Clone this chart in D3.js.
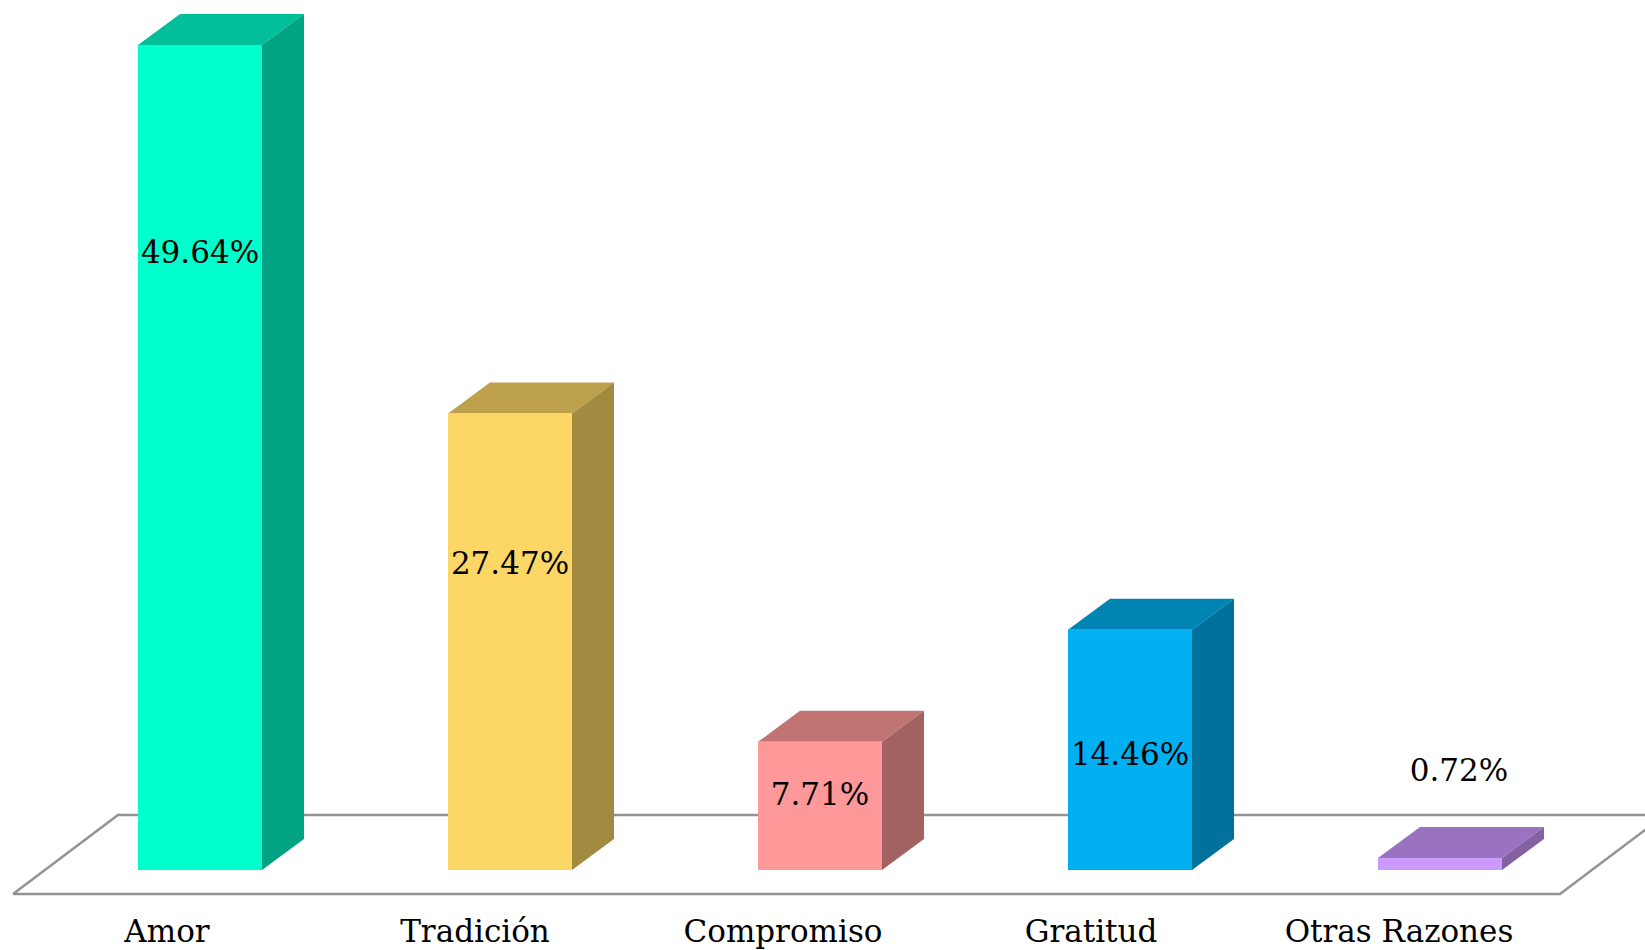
<!DOCTYPE html>
<html>
<head>
<meta charset="utf-8">
<script src="https://cdn.jsdelivr.net/npm/d3@7"></script>
<style>
  body { margin: 0; background: #fff; }
  text { font-family: "DejaVu Serif", serif; fill: #000; }
</style>
</head>
<body>
<div id="c_plot"></div>
<script>
var categories = ["Amor", "Tradición", "Compromiso", "Gratitud", "Otras Razones"];
var values = [49.64, 27.47, 7.71, 14.46, 0.72];
var valueLabels = ["49.64%", "27.47%", "7.71%", "14.46%", "0.72%"];
var colors = ["#00ffcc", "#fdd766", "#ff9999", "#00b0f0", "#cc99ff"];
// where each value label sits, on the value scale (labels were placed by hand)
var labelAt = [37.2, 18.5, 4.6, 7.0, 6.0];

var W = 1645, H = 950;
var depth = { dx: 42, dy: 31 };

draw();

function shade(c, k) {
  var r = d3.rgb(c);
  return d3.rgb(r.r * k, r.g * k, r.b * k).formatHex();
}

function draw() {
  var svg = d3.select("#c_plot")
    .append("svg")
    .attr("width", W)
    .attr("height", H)
    .style("display", "block");

  svg.append("rect").attr("width", W).attr("height", H).attr("fill", "#fff");

  var x = d3.scaleBand().domain(categories).range([45, 1595])
    .paddingInner(0.6).paddingOuter(0.3);
  // category labels are spaced a touch tighter than the bars
  var xl = d3.scalePoint().domain(categories).range([167, 1399]);
  var y = d3.scaleLinear().domain([0, 50]).range([870, 39]);

  var y0 = y(0);

  // floor
  var floorFront = y0 + 24, floorBack = y0 - 55;
  svg.append("path")
    .attr("d", d3.line()([[13, floorFront], [118, floorBack], [1665, floorBack], [1560, floorFront], [13, floorFront]]))
    .attr("fill", "#fff")
    .attr("stroke", "#939393")
    .attr("stroke-width", 2.5)
    .attr("stroke-linejoin", "miter");

  for (var i = 0; i < categories.length; i++) {
    var x0 = x(categories[i]), x1 = x0 + x.bandwidth();
    var yt = y(values[i]);
    var g = svg.append("g");

    g.append("path")
      .attr("d", d3.line()([[x0, yt], [x0 + depth.dx, yt - depth.dy], [x1 + depth.dx, yt - depth.dy], [x1, yt]]) + "Z")
      .attr("fill", shade(colors[i], 0.75));
    g.append("path")
      .attr("d", d3.line()([[x1, yt], [x1 + depth.dx, yt - depth.dy], [x1 + depth.dx, y0 - depth.dy], [x1, y0]]) + "Z")
      .attr("fill", shade(colors[i], 0.64));
    g.append("rect")
      .attr("x", x0)
      .attr("y", yt)
      .attr("width", x.bandwidth())
      .attr("height", y0 - yt)
      .attr("fill", colors[i]);

    // value label: over the front face, or centred on the top face when above the bar
    var ly = y(labelAt[i]);
    var lx = ly < yt ? (x0 + x1) / 2 + depth.dx / 2 - 2 : (x0 + x1) / 2;
    svg.append("text")
      .attr("x", lx)
      .attr("y", ly + 11)
      .attr("text-anchor", "middle")
      .style("font-size", "31px")
      .text(valueLabels[i]);

    svg.append("text")
      .attr("x", xl(categories[i]))
      .attr("y", 942)
      .attr("text-anchor", "middle")
      .style("font-size", "31px")
      .text(categories[i]);
  }
}
</script>
</body>
</html>
